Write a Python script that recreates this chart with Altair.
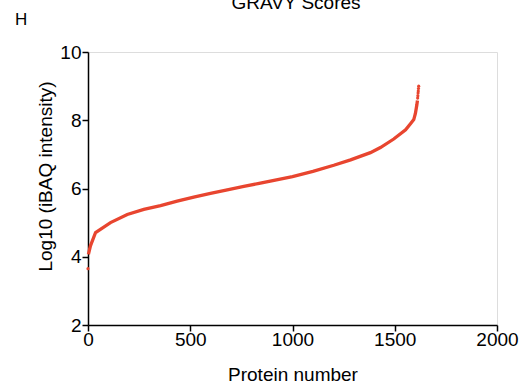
import altair as alt
import pandas as pd

# Read-off values (protein rank, log10 iBAQ)
protein = [2, 12, 37, 110, 192, 273, 355, 436, 517, 599, 681, 762, 843, 1000,
           1100, 1202, 1284, 1381, 1430, 1495, 1553, 1577, 1593, 1601, 1608, 1611]
log_ibaq = [4.07, 4.32, 4.71, 5.0, 5.24, 5.39, 5.5, 5.63, 5.75, 5.86, 5.96, 6.06,
            6.16, 6.35, 6.5, 6.68, 6.84, 7.05, 7.2, 7.45, 7.72, 7.9, 8.02, 8.2, 8.45, 8.58]
# Separate dots (lowest protein and the top tail)
dot_protein = [0, 1612, 1613, 1614, 1615, 1616, 1617]
dot_log_ibaq = [3.65, 8.65, 8.72, 8.8, 8.86, 8.93, 9.0]

title_text = "GRAVY Scores"
panel_label = "H"
RED = "#e8452f"
FONT = "Liberation Sans"

line_df = pd.DataFrame({"p": protein, "v": log_ibaq})
dot_df = pd.DataFrame({"p": dot_protein, "v": dot_log_ibaq})

xscale = alt.Scale(domain=[0, 2000], nice=False, zero=False)
yscale = alt.Scale(domain=[2, 10], nice=False, zero=False)

xaxis = alt.Axis(values=[0, 500, 1000, 1500, 2000], title="Protein number", format="d",
                 grid=False, domainColor="black", domainWidth=1.5,
                 tickColor="black", tickWidth=1.5, tickSize=6,
                 labelFont=FONT, labelFontSize=19, labelColor="black",
                 labelPadding=-1, titleFont=FONT, titleFontSize=19,
                 titleFontWeight="normal", titleColor="black",
                 titleBaseline="alphabetic", titleY=55,
                 labelFlush=False)
yaxis = alt.Axis(values=[2, 4, 6, 8, 10], title="Log10 (iBAQ intensity)", format="d",
                 grid=False, domainColor="black", domainWidth=1.5,
                 tickColor="black", tickWidth=1.5, tickSize=6,
                 labelFont=FONT, labelFontSize=19, labelColor="black",
                 labelPadding=1, titleFont=FONT, titleFontSize=19,
                 titleFontWeight="normal", titleColor="black",
                 titleX=-33, titleY=124, titleBaseline="bottom", titleAlign="center",
                 labelFlush=False)

line = alt.Chart(line_df).mark_line(color=RED, strokeWidth=3.3).encode(
    x=alt.X("p:Q", scale=xscale, axis=xaxis),
    y=alt.Y("v:Q", scale=yscale, axis=yaxis),
)
dots = alt.Chart(dot_df).mark_circle(color=RED, size=10, opacity=1).encode(
    x=alt.X("p:Q", scale=xscale),
    y=alt.Y("v:Q", scale=yscale),
)
title = alt.Chart(pd.DataFrame({"t": [title_text]})).mark_text(
    font=FONT, fontSize=19, color="black", align="center", baseline="alphabetic"
).encode(x=alt.value(208), y=alt.value(-43), text="t:N")
label = alt.Chart(pd.DataFrame({"t": [panel_label]})).mark_text(
    font=FONT, fontSize=17, color="black", align="left", baseline="alphabetic"
).encode(x=alt.value(-73), y=alt.value(-27), text="t:N")

chart = alt.layer(line, dots, title, label).properties(
    width=409, height=273,
    autosize=alt.AutoSizeParams(type="none"),
    padding={"left": 88, "top": 52, "right": 28, "bottom": 58},
).configure_view(stroke="black", strokeWidth=1.5).configure(background="white")

chart.save("out.html", embed_options={"renderer": "svg", "actions": False})
